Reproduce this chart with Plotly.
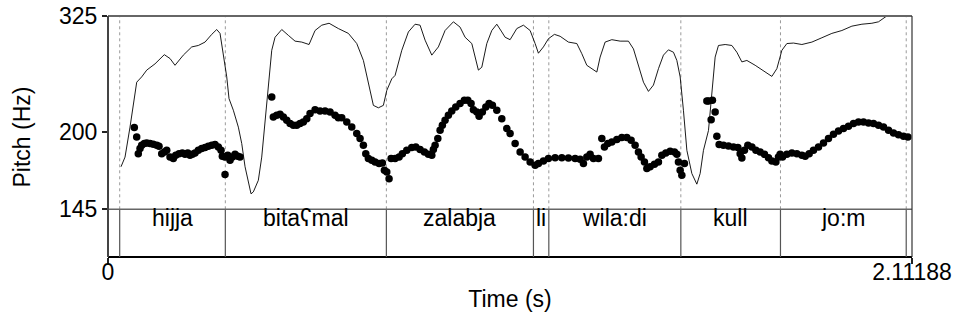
import math
import plotly.graph_objects as go

# ---------------- data ----------------
total_duration = 2.11188

pitch_time = [0.0691, 0.0754, 0.0796, 0.0841, 0.0885, 0.0954, 0.1017, 0.1104, 0.1190, 0.1280,
              0.1340, 0.1411, 0.1479, 0.1542, 0.1629, 0.1716, 0.1779, 0.1865, 0.1952, 0.2023,
              0.2094, 0.2154, 0.2215, 0.2286, 0.2373, 0.2462, 0.2549, 0.2635, 0.2725, 0.2811,
              0.2898, 0.2969, 0.3003, 0.3074, 0.3068, 0.3145, 0.3205, 0.3266, 0.3337, 0.3408,
              0.3468,
              0.4301, 0.4343, 0.4432, 0.4519, 0.4606, 0.4695, 0.4782, 0.4869, 0.4958, 0.5045,
              0.5131, 0.5221, 0.5307, 0.5439, 0.5570, 0.5701, 0.5833, 0.5964, 0.6051, 0.6140,
              0.6272, 0.6403, 0.6534, 0.6621, 0.6708, 0.6771, 0.6839, 0.6929, 0.7015, 0.7120,
              0.7207, 0.7260, 0.7323, 0.7383,
              0.7436, 0.7541, 0.7646, 0.7732, 0.7848, 0.7979, 0.8085, 0.8197, 0.8311, 0.8416,
              0.8505, 0.8547, 0.8592, 0.8663, 0.8723, 0.8783, 0.8854, 0.8941, 0.9030, 0.9135,
              0.9248, 0.9361, 0.9451, 0.9537, 0.9598, 0.9687, 0.9748, 0.9834, 0.9924, 1.0010,
              1.0097, 1.0213, 1.0344, 1.0475, 1.0562, 1.0694, 1.0825, 1.0956, 1.1088, 1.1219,
              1.1306, 1.1437, 1.1569, 1.1745, 1.1920, 1.2094, 1.2270, 1.2401, 1.2488, 1.2577,
              1.2664, 1.2751, 1.2882,
              1.2971, 1.3040, 1.3129, 1.3234, 1.3366, 1.3497, 1.3628, 1.3741, 1.3846, 1.3933,
              1.4004, 1.4091, 1.4154, 1.4240, 1.4354, 1.4459, 1.4548, 1.4653, 1.4766, 1.4879,
              1.4942, 1.4984, 1.5029, 1.5073, 1.5142,
              1.5730, 1.5773, 1.5877, 1.5843, 1.5948, 1.5993, 1.6053, 1.6166, 1.6298, 1.6429,
              1.6545, 1.6605, 1.6650, 1.6718, 1.6807, 1.6913, 1.7018, 1.7131, 1.7244, 1.7349,
              1.7438, 1.7543, 1.7611, 1.7656,
              1.7717, 1.7832, 1.7964, 1.8095, 1.8226, 1.8313, 1.8418, 1.8531, 1.8663, 1.8794,
              1.8925, 1.9056, 1.9188, 1.9319, 1.9451, 1.9582, 1.9713, 1.9845, 1.9976, 2.0107,
              2.0239, 2.0370, 2.0502, 2.0633, 2.0764, 2.0896, 2.1011]

pitch_hz = [204.0, 196.1, 182.9, 186.8, 189.4, 190.8, 191.2, 190.8, 190.2, 189.4,
            188.6, 182.9, 184.2, 185.5, 180.4, 179.2, 181.7, 182.9, 183.4, 182.4,
            183.4, 181.7, 182.4, 183.4, 185.5, 186.8, 187.6, 188.6, 189.4, 190.0,
            188.1, 185.5, 180.9, 167.6, 180.4, 181.7, 178.0, 180.4, 182.4, 180.9,
            180.4,
            231.7, 213.2, 214.7, 215.6, 213.2, 210.3, 207.4, 205.9, 205.9, 207.4,
            208.8, 211.7, 216.2, 219.8, 218.6, 218.6, 217.7, 214.7, 212.6, 212.6,
            208.8, 204.4, 198.9, 194.8, 189.4, 182.9, 179.2, 178.0, 176.7, 175.5,
            175.9, 170.7, 169.4, 164.8,
            179.2, 179.2, 180.4, 182.9, 185.5, 187.6, 188.1, 186.1, 184.2, 182.4,
            181.7, 186.1, 189.4, 194.8, 201.7, 205.9, 210.3, 214.7, 218.6, 222.2,
            225.5, 228.6, 228.6, 225.5, 219.8, 217.7, 213.8, 217.7, 222.2, 225.5,
            223.9, 219.2, 211.7, 203.1, 198.9, 190.8, 184.2, 180.4, 176.7, 174.3,
            175.5, 177.4, 179.2, 179.9, 179.9, 179.7, 179.2, 178.7, 175.5, 180.4,
            182.4, 179.2, 179.2,
            194.8, 188.1, 190.8, 192.0, 194.0, 195.6, 195.6, 193.4, 189.4, 184.2,
            180.4, 176.7, 171.9, 173.1, 175.0, 176.7, 181.7, 183.4, 184.8, 184.2,
            182.4, 176.7, 170.7, 167.1, 175.5,
            227.9, 227.9, 228.6, 210.8, 217.7, 196.7, 190.0, 189.4, 188.8, 188.1,
            187.6, 182.9, 179.7, 185.5, 189.4, 188.1, 185.5, 184.2, 182.4, 179.9,
            177.4, 176.7, 180.4, 182.4,
            180.4, 182.4, 183.4, 182.9, 181.7, 180.9, 182.9, 185.5, 188.1, 191.2,
            194.8, 198.3, 201.1, 203.1, 205.1, 207.4, 208.8, 208.8, 208.0, 207.4,
            205.9, 204.4, 201.7, 199.4, 198.0, 196.7, 196.1]

intensity_time = [0.0342, 0.0447, 0.0578, 0.0754, 0.0885, 0.1017, 0.1235, 0.1479, 0.1629, 0.1760,
                  0.1978, 0.2199, 0.2373, 0.2549, 0.2725, 0.2856, 0.2943, 0.3029, 0.3119, 0.3179,
                  0.3292, 0.3424, 0.3513, 0.3600, 0.3757, 0.3818, 0.3949, 0.4038, 0.4125, 0.4212,
                  0.4301, 0.4388, 0.4564, 0.4737, 0.4913, 0.5089, 0.5281, 0.5439, 0.5615, 0.5807,
                  0.6051, 0.6314, 0.6534, 0.6708, 0.6839, 0.6971, 0.7102, 0.7233, 0.7323, 0.7454,
                  0.7541, 0.7717, 0.7890, 0.8066, 0.8197, 0.8329, 0.8505, 0.8678, 0.8854, 0.9073,
                  0.9248, 0.9380, 0.9556, 0.9643, 0.9729, 0.9819, 0.9950, 1.0081, 1.0213, 1.0344,
                  1.0431, 1.0562, 1.0738, 1.0912, 1.1088, 1.1219, 1.1306, 1.1437, 1.1569, 1.1726,
                  1.1876, 1.2094, 1.2315, 1.2446, 1.2577, 1.2840, 1.2927, 1.3058, 1.3234, 1.3452,
                  1.3670, 1.3802, 1.3933, 1.4065, 1.4196, 1.4327, 1.4459, 1.4590, 1.4721, 1.4853,
                  1.4942, 1.5029, 1.5115, 1.5205, 1.5336, 1.5467, 1.5554, 1.5641, 1.5773, 1.5862,
                  1.5948, 1.6035, 1.6211, 1.6387, 1.6518, 1.6650, 1.6781, 1.6999, 1.7262, 1.7438,
                  1.7569, 1.7701, 1.7832, 1.8006, 1.8226, 1.8489, 1.8752, 1.9014, 1.9277, 1.9540,
                  1.9803, 2.0065, 2.0239, 2.0370, 2.0460, 2.0599, 2.0731]

intensity_db = [48.8, 50.8, 57.0, 66.3, 67.4, 68.8, 70.1, 72.0, 71.2, 69.8,
                71.9, 73.6, 73.9, 74.6, 76.2, 77.2, 76.4, 72.2, 67.4, 62.9,
                60.5, 57.0, 53.6, 48.8, 43.2, 43.6, 46.0, 50.8, 57.7, 65.3,
                72.9, 75.6, 77.2, 76.0, 74.8, 74.6, 74.1, 77.0, 78.1, 78.5,
                77.4, 76.4, 74.3, 70.8, 66.0, 61.5, 61.0, 61.5, 64.6, 67.0,
                67.7, 72.9, 76.7, 78.3, 78.1, 75.0, 71.9, 73.6, 77.0, 78.8,
                77.7, 75.6, 74.3, 71.5, 68.8, 69.4, 74.3, 77.0, 78.3, 76.7,
                75.6, 75.1, 77.4, 78.1, 77.0, 74.3, 72.3, 73.6, 75.3, 76.2,
                75.8, 74.6, 74.3, 72.2, 69.8, 68.4, 71.5, 74.6, 75.1, 74.8,
                74.8, 73.2, 69.8, 66.3, 64.4, 65.7, 69.1, 71.9, 73.0, 72.5,
                70.8, 67.4, 60.5, 52.2, 47.4, 45.2, 47.4, 52.2, 56.3, 63.9,
                71.5, 73.9, 74.1, 73.9, 72.5, 70.5, 70.8, 69.8, 68.4, 67.5,
                69.1, 72.9, 74.3, 74.4, 74.1, 74.6, 75.5, 76.4, 77.0, 77.9,
                78.3, 78.5, 78.8, 79.5, 80.0, 80.8, 81.2]

boundaries = [0.0307, 0.3082, 0.7312, 1.1175, 1.1579, 1.5047, 1.7664, 2.0967]
words = ["hijja", "bitaʕmal", "zalabja", "li", "wila:di", "kull", "jo:m"]

pitch_ticks = [145, 200, 325]
pitch_range_hz = [145, 325]
time_ticks = [0, 2.11188]
time_tick_labels = ["0", "2.11188"]

# ---------------- figure ----------------
FONT = "Liberation Sans, Arial, Helvetica, sans-serif"
FS = 23
TIER = 0.198  # fraction of plot height used by the text tier

fig = go.Figure()

fig.add_trace(go.Scatter(
    x=intensity_time, y=intensity_db, mode="lines", yaxis="y2",
    line=dict(color="black", width=0.9), hoverinfo="skip", showlegend=False))

fig.add_trace(go.Scatter(
    x=pitch_time, y=pitch_hz, mode="markers",
    marker=dict(color="black", size=7.5, line=dict(width=0)),
    showlegend=False))

shapes = []
for b in boundaries:
    shapes.append(dict(type="line", xref="x", yref="paper", x0=b, x1=b, y0=TIER, y1=1,
                       line=dict(color="#9a9a9a", width=1, dash="dot"), layer="below"))
    shapes.append(dict(type="line", xref="x", yref="paper", x0=b, x1=b, y0=0, y1=TIER,
                       line=dict(color="#555555", width=1.2)))
# tier top / 145 Hz line
shapes.append(dict(type="line", xref="paper", yref="paper", x0=0, x1=1, y0=TIER, y1=TIER,
                   line=dict(color="#666666", width=1.5)))
# frame
shapes.append(dict(type="line", xref="paper", yref="paper", x0=0, x1=1, y0=1, y1=1,
                   line=dict(color="#666666", width=2)))
shapes.append(dict(type="line", xref="paper", yref="paper", x0=0, x1=0, y0=0, y1=1,
                   line=dict(color="#444444", width=2)))
shapes.append(dict(type="line", xref="paper", yref="paper", x0=1, x1=1, y0=0, y1=1,
                   line=dict(color="#333333", width=1.2)))

annotations = []
for i, w in enumerate(words):
    annotations.append(dict(x=(boundaries[i] + boundaries[i + 1]) / 2, y=TIER / 2,
                            xref="x", yref="paper", text=w, showarrow=False,
                            font=dict(family=FONT, size=FS, color="black")))
annotations.append(dict(x=-0.107, y=0.5, xref="paper", yref="paper", text="Pitch (Hz)",
                        textangle=-90, showarrow=False, xanchor="center", yanchor="middle",
                        font=dict(family=FONT, size=FS, color="black")))

yr = [math.log10(pitch_range_hz[0]) - 1e-6, math.log10(pitch_range_hz[1]) + 1e-6]

fig.update_layout(
    width=958, height=325,
    margin=dict(l=108, r=46, t=16, b=68, autoexpand=False),
    paper_bgcolor="white", plot_bgcolor="white",
    font=dict(family=FONT, size=FS, color="black"),
    showlegend=False,
    xaxis=dict(range=[0, total_duration], tickvals=time_ticks, ticktext=time_tick_labels,
               anchor="free", position=0, automargin=False,
               ticks="outside", ticklen=6, tickwidth=1.5, tickcolor="#222222",
               ticklabelstandoff=-12, ticklabeloverflow="allow",
               showgrid=False, zeroline=False, showline=True, linecolor="black", linewidth=2,
               title=dict(text="Time (s)", standoff=6,
                          font=dict(family=FONT, size=FS, color="black")),
               tickfont=dict(family=FONT, size=FS, color="black")),
    yaxis=dict(type="log", range=yr, domain=[TIER, 1], automargin=False,
               tickvals=pitch_ticks, ticktext=[str(v) for v in pitch_ticks],
               ticks="outside", ticklen=5, tickwidth=1.5, tickcolor="#222222",
               ticklabeloverflow="allow",
               showgrid=False, zeroline=False, showline=False,
               tickfont=dict(family=FONT, size=FS, color="black")),
    yaxis2=dict(range=[40, 80], overlaying="y", visible=False, showgrid=False, zeroline=False),
    shapes=shapes,
    annotations=annotations,
)

# remove the browser's default 8 px body margin so the figure sits at the page origin
fig.write_html("out.html", config={"displayModeBar": False},
               post_script="document.body.style.margin='0px';")
